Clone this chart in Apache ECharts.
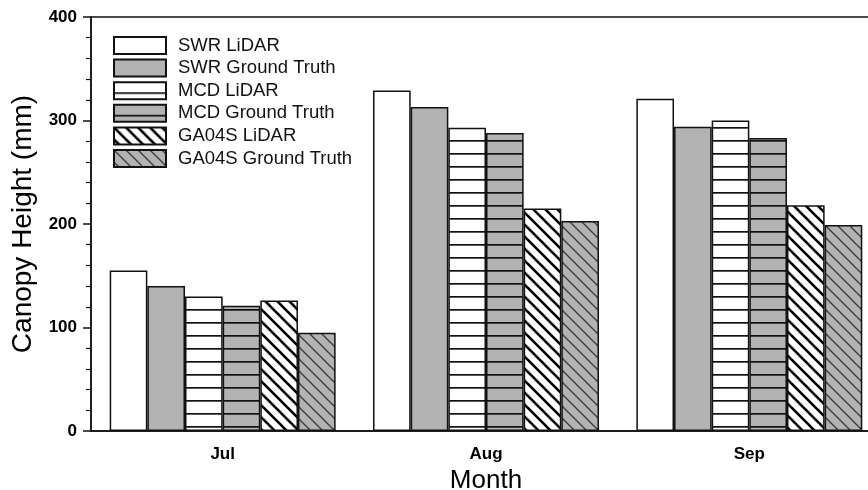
<!DOCTYPE html>
<html>
<head>
<meta charset="utf-8">
<script src="https://cdn.jsdelivr.net/npm/echarts@6/dist/echarts.min.js"></script>
<style>
  html, body { margin: 0; padding: 0; background: #fff; overflow: hidden; }
  #chart { width: 868px; height: 490px; }
</style>
</head>
<body>
<div id="chart"></div>
<script>
// Monthly canopy height (mm) by method
const months = ['Jul', 'Aug', 'Sep'];
const swrLidar    = [155, 329, 321];
const swrGround   = [140, 313, 294];
const mcdLidar    = [130, 293, 300];
const mcdGround   = [121, 288, 283];
const ga04sLidar  = [126, 215, 218];
const ga04sGround = [95, 203, 199];
const yTicks = [0, 100, 200, 300, 400];

const GRAY = '#b3b3b3';
const FONT = 'Liberation Sans, Arial, sans-serif';

// Fill patterns built on small canvases
function hLines(bg) {
  const c = document.createElement('canvas');
  c.width = 8; c.height = 13;
  const g = c.getContext('2d');
  g.fillStyle = bg; g.fillRect(0, 0, 8, 13);
  g.fillStyle = '#111'; g.fillRect(0, 10, 8, 1.7);
  return { image: c, repeat: 'repeat' };
}
function diag(bg, stroke, width, p) {
  const c = document.createElement('canvas');
  c.width = p; c.height = p;
  const g = c.getContext('2d');
  g.fillStyle = bg; g.fillRect(0, 0, p, p);
  g.strokeStyle = stroke; g.lineWidth = width;
  for (let k = -1; k <= 1; k++) {
    g.beginPath();
    g.moveTo(k * p - 1, -1);
    g.lineTo(k * p + p + 1, p + 1);
    g.stroke();
  }
  return { image: c, repeat: 'repeat' };
}

function bar(name, data, fill) {
  return {
    name, type: 'bar', data,
    barGap: '0%', barCategoryGap: '14.2%',
    itemStyle: { color: fill, borderColor: '#111', borderWidth: 1.5 },
    emphasis: { disabled: true }
  };
}

const chart = echarts.init(document.getElementById('chart'), null, { renderer: 'canvas', width: 868, height: 490 });
chart.setOption({
  animation: false,
  backgroundColor: '#fff',
  textStyle: { fontFamily: FONT, color: '#000' },
  grid: {
    left: 91, top: 17, width: 790, height: 414,
    containLabel: false, outerBoundsMode: 'none',
    show: true, borderColor: '#111', borderWidth: 1.5, backgroundColor: 'transparent'
  },
  legend: {
    orient: 'vertical', left: 108, top: 31,
    icon: 'rect',
    itemWidth: 52, itemHeight: 17, itemGap: 3.6,
    textStyle: { fontFamily: FONT, fontSize: 18.5, lineHeight: 17, color: '#111', padding: [0, 0, 0, 7] },
    selectedMode: false
  },
  xAxis: {
    type: 'category', data: months,
    name: 'Month', nameLocation: 'middle', nameGap: 36,
    nameTextStyle: { fontFamily: FONT, fontSize: 26, color: '#000' },
    axisLine: { lineStyle: { color: '#111', width: 1.5 } },
    axisTick: { alignWithLabel: true, length: 7, lineStyle: { color: '#111', width: 1.5 } },
    axisLabel: { fontFamily: FONT, fontSize: 17, fontWeight: 'bold', color: '#000', margin: 15 }
  },
  yAxis: {
    type: 'value', min: yTicks[0], max: yTicks[yTicks.length - 1], interval: 100,
    name: 'Canopy Height (mm)', nameLocation: 'middle', nameGap: 39,
    nameTextStyle: { fontFamily: FONT, fontSize: 28, color: '#000' },
    axisLine: { show: true, lineStyle: { color: '#111', width: 1.5 } },
    axisTick: { show: true, length: 8, lineStyle: { color: '#111', width: 1.5 } },
    minorTick: { show: true, splitNumber: 5, length: 5, lineStyle: { color: '#111', width: 1.2 } },
    splitLine: { show: false },
    axisLabel: { fontFamily: FONT, fontSize: 17, fontWeight: 'bold', color: '#000', margin: 14 }
  },
  series: [
    bar('SWR LiDAR', swrLidar, '#ffffff'),
    bar('SWR Ground Truth', swrGround, GRAY),
    bar('MCD LiDAR', mcdLidar, hLines('#ffffff')),
    bar('MCD Ground Truth', mcdGround, hLines(GRAY)),
    bar('GA04S LiDAR', ga04sLidar, diag('#ffffff', '#000', 2.6, 12)),
    bar('GA04S Ground Truth', ga04sGround, diag(GRAY, '#3a3a3a', 1.3, 12))
  ]
});
</script>
</body>
</html>
